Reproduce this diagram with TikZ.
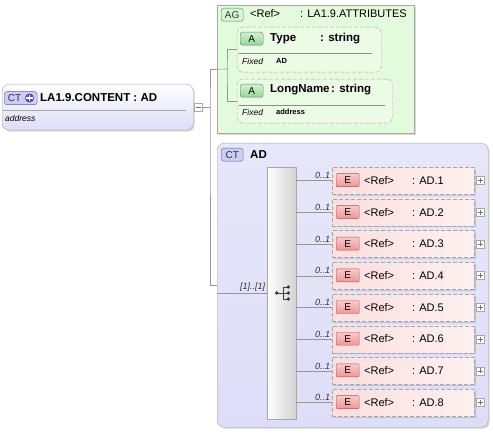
\documentclass[tikz,border=0pt]{standalone}
\usepackage{fontspec}
\setmainfont{Liberation Sans}
\usetikzlibrary{shadows}
\definecolor{wiregray}{RGB}{150,150,150}
\definecolor{framegray}{RGB}{168,168,168}
\definecolor{lavender}{RGB}{221,221,248}
\definecolor{palegreen}{RGB}{228,250,220}
\definecolor{palepink}{RGB}{252,222,222}
\definecolor{ctfill}{RGB}{204,204,244}
\definecolor{ctline}{RGB}{96,96,150}
\definecolor{afill}{RGB}{150,214,150}
\definecolor{aline}{RGB}{80,140,80}
\definecolor{efill}{RGB}{238,150,150}
\definecolor{eline}{RGB}{176,80,80}
\begin{document}
\begin{tikzpicture}[x=1pt, y=-1pt,
    shade box/.style={drop shadow={shadow xshift=1.5pt, shadow yshift=-1.5pt, opacity=.25, fill=black!60}},
    ctbox/.style={draw=framegray, rounded corners=7pt, anchor=north west, inner sep=0pt, shade box},
    agbox/.style={draw=framegray, anchor=north west, inner sep=0pt, fill=palegreen, shade box},
    attrbox/.style={draw=framegray, dash pattern=on 4pt off 2pt, rounded corners=5pt, anchor=north west, inner sep=0pt, fill=palegreen!70!white},
    elembox/.style={draw=framegray, dash pattern=on 4pt off 2pt, anchor=north west, inner sep=0pt, left color=palepink, right color=palepink!45!white, shade box},
    seqbox/.style={draw=framegray, anchor=north west, inner sep=0pt, left color=white, right color=black!17},
    badge/.style={draw, anchor=north west, rounded corners=2.5pt, inner sep=0pt, minimum height=13pt, font=\fontsize{10}{10}\selectfont},
    ctbadge/.style={badge, draw=ctline, fill=ctfill, text=ctline!50!black},
    agbadge/.style={badge, draw=aline, fill=afill!35!white, text=aline!50!black, minimum width=22pt},
    abadge/.style={badge, draw=aline, top color=afill!40!white, bottom color=afill, minimum width=23pt},
    ebadge/.style={badge, rounded corners=1pt, draw=eline, top color=efill!50!white, bottom color=efill, minimum width=23pt},
    titletext/.style={anchor=west, inner sep=0pt, font=\bfseries\fontsize{11.5}{13}\selectfont},
    reftext/.style={anchor=west, inner sep=0pt, font=\fontsize{11}{13}\selectfont},
    notetext/.style={anchor=west, inner sep=0pt, font=\itshape\fontsize{8.5}{10}\selectfont},
    fixedtext/.style={anchor=west, inner sep=0pt, font=\bfseries\fontsize{7.5}{9}\selectfont},
    cardtext/.style={inner sep=1.5pt, font=\itshape\fontsize{9}{10}\selectfont, text=black!80},
    wire/.style={draw=wiregray, line width=0.6pt},
    plusbox/.style={draw=framegray, fill=white, minimum size=8pt, inner sep=0pt,
      path picture={\draw[black!55] ([xshift=1.5pt]path picture bounding box.west) -- ([xshift=-1.5pt]path picture bounding box.east)
        ([yshift=-1.5pt]path picture bounding box.north) -- ([yshift=1.5pt]path picture bounding box.south);}},
    minusbox/.style={draw=framegray, fill=white, minimum size=8pt, inner sep=0pt,
      path picture={\draw[black!55] ([xshift=1.5pt]path picture bounding box.west) -- ([xshift=-1.5pt]path picture bounding box.east);}}]
    \useasboundingbox (0,0) rectangle (493,433);

    % Complex type LA1.9.CONTENT
    \node[ctbox, top color=white, bottom color=lavender, minimum width=191pt, minimum height=46pt] (content) at (2,84) {};
    \node[ctbadge, minimum width=33pt] (contentct) at (4,91.5) {};
    \node[inner sep=0pt, font=\fontsize{10}{10}\selectfont, text=ctline!50!black] at (14.5,98) {CT};
    \node[circle, fill=ctline!80!blue, inner sep=0pt, minimum size=9pt] (contentplus) at (29.5,98) {};
    \draw[white, line width=1.4pt] (26.3,98) -- (32.7,98) (29.5,94.8) -- (29.5,101.2);
    \node[titletext] at (40,97.5) {LA1.9.CONTENT : AD};
    \draw[framegray] (3,110) -- (186,110);
    \node[notetext] at (5,118.5) {address};
    \node[minusbox] (contentminus) at (198,107) {};

    % Attribute group LA1.9.ATTRIBUTES
    \node[agbox, minimum width=197pt, minimum height=128pt] (attrs) at (217,5) {};
    \node[agbadge] (attrsag) at (221,8) {AG};
    \node[reftext] at (250,14) {<Ref>};
    \node[reftext] at (300,14) {: LA1.9.ATTRIBUTES};

    % Attribute Type
    \node[attrbox, minimum width=144pt, minimum height=45pt] (typeattr) at (237,27) {};
    \node[abadge] (typea) at (240,32) {A};
    \node[titletext] at (270,38.5) {Type};
    \node[titletext] at (320,38.5) {: string};
    \draw[black!45] (239,53) -- (372,53);
    \node[notetext] at (242,61) {Fixed};
    \node[fixedtext] at (276,60.5) {AD};

    % Attribute LongName
    \node[attrbox, minimum width=155pt, minimum height=44pt] (longattr) at (237,79) {};
    \node[abadge] (longa) at (240,84) {A};
    \node[titletext] at (270,90) {LongName};
    \node[titletext] at (331,90) {: string};
    \draw[black!45] (239,105) -- (385,105);
    \node[notetext] at (242,112) {Fixed};
    \node[fixedtext] at (276,111.5) {address};

    % Complex type AD
    \node[ctbox, top color=lavender!70!white, bottom color=lavender, minimum width=271pt, minimum height=284pt] (adtype) at (217,143) {};
    \node[ctbadge, minimum width=22pt] (adct) at (221,148) {CT};
    \node[titletext] at (250,154.5) {AD};

    % Sequence
    \node[seqbox, minimum width=29pt, minimum height=252pt] (seq) at (267,167) {};
    \coordinate (seqroot) at (276.7,293);
    \draw[black!75, line width=0.8pt] (seqroot) -- (283.3,293) (283.3,287) -- (283.3,299) (283.3,287) -- (288.3,287) (283.3,299) -- (288.3,299) (283.3,293) -- (288.3,293);
    \foreach \dy in {287,293,299} \fill[black!80] (288.3,\dy) circle (1.8pt);
    \fill[black!80] (seqroot) circle (1.8pt);

    % Connectors
    \coordinate (fork) at (210,107);
    \coordinate (agfork) at (227,69);
    \draw[wire] (contentminus.east) -- (fork);
    \draw[wire] (attrs.west) -| (fork) |- (adtype.west);
    \draw[wire] (attrs.west) -- (agfork);
    \draw[wire] (typeattr.west) -| (agfork) |- (longattr.west);
    \draw[wire] (adtype.west |- seq.west) -- (seq.west) node[pos=1, above left, cardtext] {[1]..[1]};

    % Elements AD.1 ... AD.8
    \foreach \i in {1,...,8} {
        \pgfmathsetmacro\etop{167+(\i-1)*31.7}
        \pgfmathsetmacro\emid{\etop+13.5}
        \node[elembox, minimum width=142pt, minimum height=27pt] (el\i) at (332,\etop) {};
        \node[ebadge] (eb\i) at (336,\etop+6.5) {E};
        \node[reftext] at (364,\emid) {<Ref>};
        \node[reftext] at (412,\emid) {: AD.\i};
        \node[plusbox] (ex\i) at (480,\emid) {};
        \draw[wire] (seq.east |- el\i.west) -- (el\i.west) node[pos=1, above left, cardtext] {0..1};
    }
\end{tikzpicture}
\end{document}
